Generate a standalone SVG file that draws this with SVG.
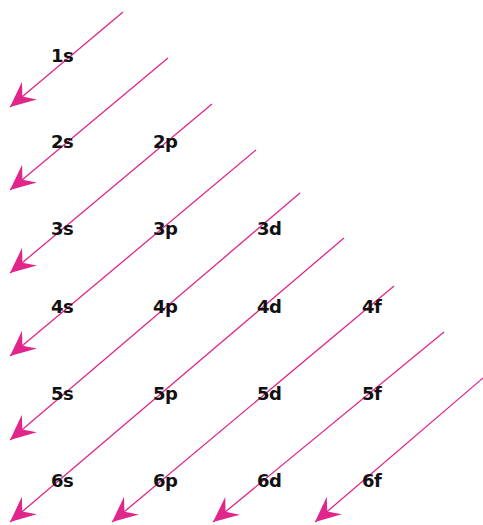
<svg xmlns="http://www.w3.org/2000/svg" width="483" height="525" viewBox="0 0 483 525">
<style>
.c line{stroke:#e0268a;stroke-width:1.3;fill:none}
.n text{font-family:"DejaVu Sans","Liberation Sans",sans-serif;font-weight:bold;font-size:18px;letter-spacing:-0.6px;fill:#111}
</style>
<defs>
<marker id="ah" markerUnits="userSpaceOnUse" markerWidth="30" markerHeight="30" viewBox="-24 -12 26 24" refX="0" refY="0" orient="auto">
<path d="M0,0 L-22,-10 L-14,0 L-22,10 Z" fill="#e0268a"/>
</marker>
</defs>
<rect width="483" height="525" fill="#fff"/>
<g id="connectors" class="c">
<line x1="123" y1="12" x2="10" y2="107" marker-end="url(#ah)"/>
<line x1="168" y1="58" x2="10" y2="190" marker-end="url(#ah)"/>
<line x1="212" y1="104" x2="10" y2="273" marker-end="url(#ah)"/>
<line x1="256" y1="150" x2="10" y2="356" marker-end="url(#ah)"/>
<line x1="300" y1="193" x2="10" y2="440" marker-end="url(#ah)"/>
<line x1="344" y1="238" x2="10" y2="522" marker-end="url(#ah)"/>
<line x1="394" y1="286" x2="112" y2="522" marker-end="url(#ah)"/>
<line x1="444" y1="332" x2="213" y2="522" marker-end="url(#ah)"/>
<line x1="490" y1="372" x2="315" y2="522" marker-end="url(#ah)"/>
</g>
<g class="n">
<g id="n1s"><text x="51" y="62">1s</text></g>
<g id="n2s"><text x="51" y="148">2s</text></g>
<g id="n2p"><text x="153" y="148">2p</text></g>
<g id="n3s"><text x="51" y="235">3s</text></g>
<g id="n3p"><text x="153" y="235">3p</text></g>
<g id="n3d"><text x="257" y="235">3d</text></g>
<g id="n4s"><text x="51" y="313">4s</text></g>
<g id="n4p"><text x="153" y="313">4p</text></g>
<g id="n4d"><text x="257" y="313">4d</text></g>
<g id="n4f"><text x="362" y="313">4f</text></g>
<g id="n5s"><text x="51" y="400">5s</text></g>
<g id="n5p"><text x="153" y="400">5p</text></g>
<g id="n5d"><text x="257" y="400">5d</text></g>
<g id="n5f"><text x="362" y="400">5f</text></g>
<g id="n6s"><text x="51" y="487">6s</text></g>
<g id="n6p"><text x="153" y="487">6p</text></g>
<g id="n6d"><text x="257" y="487">6d</text></g>
<g id="n6f"><text x="362" y="487">6f</text></g>
</g>
</svg>
